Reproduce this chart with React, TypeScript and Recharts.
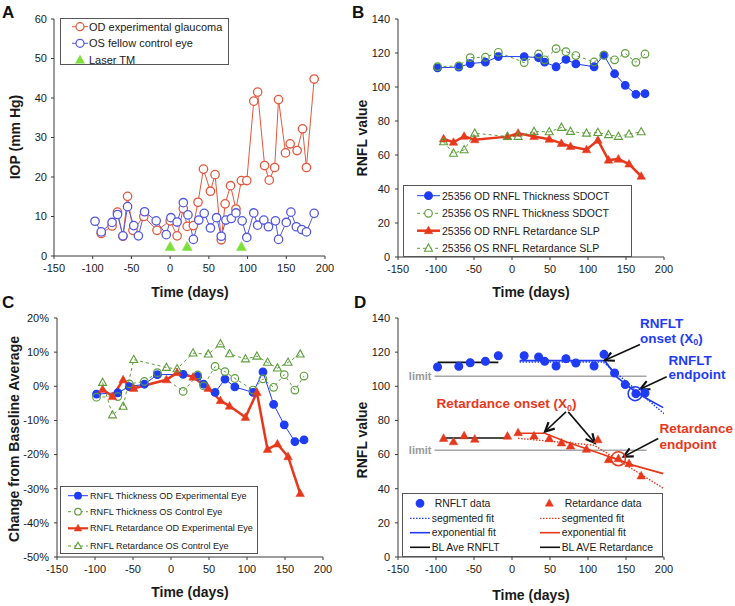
import React from 'react';
import { ComposedChart, Line, XAxis, YAxis, ReferenceLine, ReferenceDot, Legend } from 'recharts';

const FONT = '"Liberation Sans", Arial, Helvetica, sans-serif';
const TEXT = '#1a1a1a';
const AXIS = '#3a3a3a';

const A_RED = '#e4573d';
const A_BLUE = '#5458e0';
const LASER = '#7de03a';
const BLUE = '#1f3cf5';
const RED = '#e8381c';
const GREEN = '#5e9e3c';
const LIMIT = '#a6a6a6';

// ---------- shared ticks ----------
const xTicks = [-150, -100, -50, 0, 50, 100, 150, 200];
const iopTicks = [0, 10, 20, 30, 40, 50, 60];
const rnflTicks = [0, 20, 40, 60, 80, 100, 120, 140];
const pctTicks = [-50, -40, -30, -20, -10, 0, 10, 20];

// ---------- Panel A: IOP ----------
const odIopDays = [-89, -75, -68, -61, -55, -48, -34, -17, 0, 9, 17, 22, 30, 36, 43, 52, 58, 66, 71, 78, 85, 92, 99, 108, 113, 122, 128, 135, 140, 149, 155, 164, 171, 176, 186];
const odIop = [5.7, 7.6, 11.1, 5.0, 15.1, 6.5, 10.0, 6.5, 8.9, 5.1, 12.0, 7.5, 7.7, 13.6, 22.0, 16.4, 20.6, 4.1, 13.2, 17.8, 11.9, 19.1, 19.1, 39.2, 41.5, 22.9, 19.2, 22.4, 39.6, 26.1, 28.4, 26.7, 32.2, 22.4, 44.8];
const osIopDays = [-97, -89, -75, -68, -61, -55, -47, -41, -33, -18, -5, 1, 9, 17, 23, 30, 37, 44, 52, 60, 66, 72, 79, 85, 93, 99, 108, 113, 121, 127, 136, 140, 150, 156, 163, 170, 176, 186];
const osIop = [8.8, 6.1, 8.5, 10.5, 5.1, 12.5, 7.7, 5.1, 11.2, 8.9, 5.4, 9.7, 8.6, 13.5, 10.4, 4.2, 9.1, 10.8, 7.1, 9.7, 5.0, 9.1, 9.5, 10.9, 8.9, 4.7, 10.9, 7.8, 9.1, 7.4, 8.9, 4.2, 8.5, 11.1, 7.4, 6.7, 6.1, 10.8];
const laserDays = [0, 22, 92];
const laserLevel = [2.3, 2.3, 2.3];

// ---------- Panels B & D: RNFL values ----------
const thickDays = [-98, -70, -55, -35, -18, 16, 35, 43, 58, 71, 84, 108, 121, 135, 149, 163, 175];
const odThick = [111.3, 111.7, 113.8, 114.6, 117.9, 117.9, 117.2, 114.6, 111.9, 116.2, 113.6, 111.9, 118.7, 107.8, 101.0, 95.7, 96.1];
const osThick = [112.0, 112.4, 117.3, 117.5, 120.4, 114.4, 119.4, 116.0, 122.6, 120.8, 118.5, 114.7, 118.7, 116.0, 119.8, 114.5, 119.4];
const retDays = [-90, -77, -63, -49, -6, 8, 29, 49, 65, 77, 98, 113, 127, 140, 154, 170];
const odRet = [69.5, 67.5, 71.0, 69.0, 70.8, 72.8, 70.9, 69.3, 66.8, 65.0, 63.1, 68.7, 57.0, 57.6, 54.7, 47.5];
const osRet = [67.7, 61.0, 63.0, 72.8, 70.9, 70.9, 73.8, 73.6, 76.2, 73.8, 72.8, 73.2, 71.9, 70.9, 72.3, 73.6];

// ---------- Panel C: % change from baseline ----------
const cThickOD = [-2.3, -1.9, -0.1, 0.6, 3.4, 3.5, 2.9, 0.6, -1.8, 2.1, -0.2, -1.8, 4.2, -5.3, -11.3, -16.2, -15.7];
const cThickOS = [-3.2, -3.0, 0.7, 1.4, 4.0, -1.5, 3.3, 0.1, 5.8, 4.3, 2.3, -1.1, 2.2, -0.3, 3.4, -1.1, 3.0];
const cRetOD = [-0.9, -3.0, 1.9, -0.6, 1.9, 4.0, 2.7, -0.6, -4.2, -5.8, -9.1, -1.8, -18.5, -16.9, -20.6, -31.4];
const cRetOS = [1.1, -8.4, -5.9, 7.8, 5.5, 5.1, 9.7, 9.4, 12.4, 9.5, 8.0, 8.8, 7.0, 5.3, 7.0, 9.4];

// ---------- Panel D: fits ----------
const rnfltSegDays = [10, 120, 200];
const rnfltSegVals = [114.2, 114.2, 84];
const rnfltExpDays = [10, 122, 138, 160, 177, 199];
const rnfltExpVals = [115, 115, 105.4, 97.7, 92.8, 87.5];
const retSegDays = [8, 108, 200];
const retSegVals = [69.5, 65.5, 40];
const retExpDays = [8, 43, 72, 116, 160, 199];
const retExpVals = [72.5, 72.5, 67.4, 60.6, 53.7, 48.8];
const blRnfltDays = [-98, -18];
const blRnflt = 114;
const blRetDays = [-90, -6];
const blRet = 69.7;
const limitDays = [-102, 177];
const rnfltLimit = 105.9;
const retLimit = 62.5;

const pts = (xs: number[], ys: number[]) => xs.map((x, i) => ({ x, y: ys[i] }));

// ---------- markers ----------
const mCircle = (cx: number, cy: number, r: number, color: string, filled: boolean, fill = '#fff', sw = 1.2) => (
  <circle cx={cx} cy={cy} r={r} fill={filled ? color : fill} stroke={color} strokeWidth={sw} />
);
const triPoints = (cx: number, cy: number, s: number) => {
  const h = s * 0.9;
  return `${cx},${cy - h * 0.6} ${cx + s / 2},${cy + h * 0.4} ${cx - s / 2},${cy + h * 0.4}`;
};
const mTri = (cx: number, cy: number, s: number, color: string, filled: boolean, fill = '#fff', sw = 1.1) => (
  <polygon points={triPoints(cx, cy, s)} fill={filled ? color : fill} stroke={color} strokeWidth={filled ? 0.5 : sw} />
);

function circleDot(color: string, r: number, filled: boolean, fill = '#fff', sw = 1.2) {
  return (p: any) => {
    if (p.cx == null || p.cy == null) return <g key={`e${p.index}`} />;
    return <g key={`c${p.index}`}>{mCircle(p.cx, p.cy, r, color, filled, fill, sw)}</g>;
  };
}
function triDot(color: string, s: number, filled: boolean, fill = '#fff', sw = 1.1) {
  return (p: any) => {
    if (p.cx == null || p.cy == null) return <g key={`e${p.index}`} />;
    return <g key={`t${p.index}`}>{mTri(p.cx, p.cy, s, color, filled, fill, sw)}</g>;
  };
}

const tickStyle = { fontSize: 11, fill: TEXT, fontFamily: FONT };
const axisLine = { stroke: AXIS, strokeWidth: 1 };

const xAxisBase = {
  type: 'number' as const,
  dataKey: 'x',
  domain: [-150, 200],
  ticks: xTicks,
  interval: 0 as const,
  tickSize: 3,
  tick: tickStyle,
  axisLine: axisLine,
  tickLine: axisLine,
  allowDataOverflow: true,
};

const legendPos = (left: number, top: number, width: number, height: number) => ({
  position: 'absolute' as const,
  left,
  top,
  width,
  height,
});

function LegendBox({ w, h, children }: any) {
  return (
    <svg width={w} height={h} style={{ display: 'block' }} fontFamily={FONT}>
      <rect x={0.5} y={0.5} width={w - 1} height={h - 1} fill="#fff" stroke="#555" strokeWidth={1} />
      {children}
    </svg>
  );
}

const LText = ({ x, y, fs, children }: any) => (
  <text x={x} y={y} dominantBaseline="central" fontSize={fs} fill={TEXT} fontFamily={FONT}>
    {children}
  </text>
);

// ---------- Legends ----------
function LegendA() {
  const rows = [8.7, 25.3, 42];
  return (
    <LegendBox w={169} h={47}>
      <line x1={12} x2={28} y1={rows[0]} y2={rows[0]} stroke={A_RED} strokeWidth={1} />
      {mCircle(20, rows[0], 4, A_RED, false)}
      <LText x={29} y={rows[0]} fs={11}>OD experimental glaucoma</LText>
      <line x1={12} x2={28} y1={rows[1]} y2={rows[1]} stroke={A_BLUE} strokeWidth={1} />
      {mCircle(20, rows[1], 4, A_BLUE, false)}
      <LText x={29} y={rows[1]} fs={11}>OS fellow control eye</LText>
      {mTri(20, rows[2], 9, LASER, true)}
      <LText x={29} y={rows[2]} fs={11}>Laser TM</LText>
    </LegendBox>
  );
}

function LegendB() {
  const rows = [10.7, 28.3, 45.7, 63.3];
  const x1 = 14, x2 = 37, mx = 25.5, tx = 39, fs = 10.5;
  return (
    <LegendBox w={229} h={72}>
      <line x1={x1} x2={x2} y1={rows[0]} y2={rows[0]} stroke={BLUE} strokeWidth={1} />
      {mCircle(mx, rows[0], 3.8, BLUE, true)}
      <LText x={tx} y={rows[0]} fs={fs}>25356 OD RNFL Thickness SDOCT</LText>
      <line x1={x1} x2={x2} y1={rows[1]} y2={rows[1]} stroke={GREEN} strokeWidth={1} strokeDasharray="3 3" />
      {mCircle(mx, rows[1], 3.8, GREEN, false)}
      <LText x={tx} y={rows[1]} fs={fs}>25356 OS RNFL Thickness SDOCT</LText>
      <line x1={x1} x2={x2} y1={rows[2]} y2={rows[2]} stroke={RED} strokeWidth={2.5} />
      {mTri(mx, rows[2], 8.5, RED, true)}
      <LText x={tx} y={rows[2]} fs={fs}>25356 OD RNFL Retardance SLP</LText>
      <line x1={x1} x2={x2} y1={rows[3]} y2={rows[3]} stroke={GREEN} strokeWidth={1} strokeDasharray="3 3" />
      {mTri(mx, rows[3], 8, GREEN, false)}
      <LText x={tx} y={rows[3]} fs={fs}>25356 OS RNFL Retardance SLP</LText>
    </LegendBox>
  );
}

function LegendC() {
  const rows = [9.7, 25.7, 42.3, 60];
  const x1 = 8, x2 = 28, mx = 18, tx = 30, fs = 9.1;
  return (
    <LegendBox w={198} h={68}>
      <line x1={x1} x2={x2} y1={rows[0]} y2={rows[0]} stroke={BLUE} strokeWidth={1} />
      {mCircle(mx, rows[0], 3.3, BLUE, true)}
      <LText x={tx} y={rows[0]} fs={fs}>RNFL Thickness OD Experimental Eye</LText>
      <line x1={x1} x2={x2} y1={rows[1]} y2={rows[1]} stroke={GREEN} strokeWidth={1} strokeDasharray="3 3" />
      {mCircle(mx, rows[1], 3.3, GREEN, false)}
      <LText x={tx} y={rows[1]} fs={fs}>RNFL Thickness OS Control Eye</LText>
      <line x1={x1} x2={x2} y1={rows[2]} y2={rows[2]} stroke={RED} strokeWidth={2.2} />
      {mTri(mx, rows[2], 7.5, RED, true)}
      <LText x={tx} y={rows[2]} fs={fs}>RNFL Retardance OD Experimental Eye</LText>
      <line x1={x1} x2={x2} y1={rows[3]} y2={rows[3]} stroke={GREEN} strokeWidth={1} strokeDasharray="3 3" />
      {mTri(mx, rows[3], 7, GREEN, false)}
      <LText x={tx} y={rows[3]} fs={fs}>RNFL Retardance OS Control Eye</LText>
    </LegendBox>
  );
}

function LegendD() {
  const rows = [10.3, 25.3, 39.7, 54.3];
  const c1 = { x1: 8, x2: 28, mx: 18, tx: 29.7 };
  const c2 = { x1: 138, x2: 158, mx: 147.3, tx: 159.7 };
  const fs = 10.4;
  return (
    <LegendBox w={261} h={64}>
      {mCircle(c1.mx, rows[0], 3.8, BLUE, true)}
      <LText x={c1.tx + 3} y={rows[0]} fs={fs}>RNFLT data</LText>
      <line x1={c1.x1} x2={c1.x2} y1={rows[1]} y2={rows[1]} stroke={BLUE} strokeWidth={1.3} strokeDasharray="1.5 1.5" />
      <LText x={c1.tx} y={rows[1]} fs={fs}>segmented fit</LText>
      <line x1={c1.x1} x2={c1.x2} y1={rows[2]} y2={rows[2]} stroke={BLUE} strokeWidth={1.6} />
      <LText x={c1.tx} y={rows[2]} fs={fs}>exponential fit</LText>
      <line x1={c1.x1} x2={c1.x2} y1={rows[3]} y2={rows[3]} stroke="#111" strokeWidth={1.6} />
      <LText x={c1.tx} y={rows[3]} fs={fs}>BL Ave RNFLT</LText>

      {mTri(c2.mx, rows[0], 8, RED, true)}
      <LText x={c2.tx + 3} y={rows[0]} fs={fs}>Retardance data</LText>
      <line x1={c2.x1} x2={c2.x2} y1={rows[1]} y2={rows[1]} stroke={RED} strokeWidth={1.3} strokeDasharray="1.5 1.5" />
      <LText x={c2.tx} y={rows[1]} fs={fs}>segmented fit</LText>
      <line x1={c2.x1} x2={c2.x2} y1={rows[2]} y2={rows[2]} stroke={RED} strokeWidth={1.6} />
      <LText x={c2.tx} y={rows[2]} fs={fs}>exponential fit</LText>
      <line x1={c2.x1} x2={c2.x2} y1={rows[3]} y2={rows[3]} stroke="#111" strokeWidth={1.6} />
      <LText x={c2.tx} y={rows[3]} fs={fs}>BL AVE Retardance</LText>
    </LegendBox>
  );
}

// ---------- Panels ----------
function PanelA() {
  return (
    <ComposedChart width={367} height={300} margin={{ top: 19, right: 42, left: 0, bottom: 0 }}>
      <XAxis {...xAxisBase} height={44} tickMargin={5} />
      <YAxis type="number" domain={[0, 60]} ticks={iopTicks} interval={0} width={54} tickSize={3} tickMargin={4} tick={tickStyle} axisLine={axisLine} tickLine={axisLine} />
      <Line data={pts(odIopDays, odIop)} dataKey="y" stroke={A_RED} strokeWidth={1} dot={circleDot(A_RED, 4.2, false, '#fff', 1.3)} isAnimationActive={false} />
      <Line data={pts(osIopDays, osIop)} dataKey="y" stroke={A_BLUE} strokeWidth={1} dot={circleDot(A_BLUE, 4.2, false, '#fff', 1.3)} isAnimationActive={false} />
      <Line data={pts(laserDays, laserLevel)} dataKey="y" stroke="none" dot={triDot(LASER, 10, true)} isAnimationActive={false} />
      <Legend content={() => <LegendA />} layout="vertical" verticalAlign="middle" align="center" wrapperStyle={legendPos(60, 18, 169, 47)} />
    </ComposedChart>
  );
}

function PanelB() {
  return (
    <ComposedChart width={385} height={300} margin={{ top: 19, right: 71, left: 0, bottom: 0 }}>
      <XAxis {...xAxisBase} height={43} tickMargin={5} />
      <YAxis type="number" domain={[0, 140]} ticks={rnflTicks} interval={0} width={48} tickSize={3} tickMargin={5} tick={tickStyle} axisLine={axisLine} tickLine={axisLine} />
      <Line data={pts(thickDays, odThick)} dataKey="y" stroke={BLUE} strokeWidth={1} dot={circleDot(BLUE, 3.8, true)} isAnimationActive={false} />
      <Line data={pts(thickDays, osThick)} dataKey="y" stroke={GREEN} strokeWidth={1} strokeDasharray="3 3" dot={circleDot(GREEN, 3.8, false, 'none', 1.2)} isAnimationActive={false} />
      <Line data={pts(retDays, odRet)} dataKey="y" stroke={RED} strokeWidth={2.5} dot={triDot(RED, 8.5, true)} isAnimationActive={false} />
      <Line data={pts(retDays, osRet)} dataKey="y" stroke={GREEN} strokeWidth={1} strokeDasharray="3 3" dot={triDot(GREEN, 8, false, 'none')} isAnimationActive={false} />
      <Legend content={() => <LegendB />} layout="vertical" verticalAlign="middle" align="center" wrapperStyle={legendPos(53, 185, 229, 72)} />
    </ComposedChart>
  );
}

function PanelC() {
  return (
    <ComposedChart width={367} height={306} margin={{ top: 18, right: 44, left: 0, bottom: 0 }}>
      <XAxis {...xAxisBase} height={49} tickMargin={5} />
      <YAxis type="number" domain={[-50, 20]} ticks={pctTicks} interval={0} width={57} tickSize={3} tickMargin={5} tick={tickStyle} axisLine={axisLine} tickLine={axisLine} tickFormatter={(v: number) => `${v}%`} />
      <Line data={pts(thickDays, cThickOD)} dataKey="y" stroke={BLUE} strokeWidth={1} dot={circleDot(BLUE, 3.8, true)} isAnimationActive={false} />
      <Line data={pts(thickDays, cThickOS)} dataKey="y" stroke={GREEN} strokeWidth={1} strokeDasharray="3 3" dot={circleDot(GREEN, 3.8, false, 'none', 1.2)} isAnimationActive={false} />
      <Line data={pts(retDays, cRetOD)} dataKey="y" stroke={RED} strokeWidth={2.5} dot={triDot(RED, 8.5, true)} isAnimationActive={false} />
      <Line data={pts(retDays, cRetOS)} dataKey="y" stroke={GREEN} strokeWidth={1} strokeDasharray="3 3" dot={triDot(GREEN, 8, false, 'none')} isAnimationActive={false} />
      <Legend content={() => <LegendC />} layout="vertical" verticalAlign="middle" align="center" wrapperStyle={legendPos(60, 186, 198, 68)} />
    </ComposedChart>
  );
}

const arrowShape = (p: any) => {
  const { x1, y1, x2, y2 } = p;
  if ([x1, y1, x2, y2].some((v) => typeof v !== 'number' || isNaN(v))) return <g />;
  const ang = Math.atan2(y2 - y1, x2 - x1);
  const L = 9, W = 4.5;
  const bx = x2 - L * Math.cos(ang);
  const by = y2 - L * Math.sin(ang);
  const px = -Math.sin(ang) * W;
  const py = Math.cos(ang) * W;
  return (
    <g>
      <line x1={x1} y1={y1} x2={x2} y2={y2} stroke="#111" strokeWidth={1.6} />
      <polyline points={`${bx + px},${by + py} ${x2},${y2} ${bx - px},${by - py}`} fill="none" stroke="#111" strokeWidth={2.2} strokeLinejoin="miter" />
    </g>
  );
};

const annText = (color: string, content: React.ReactNode) => (props: any) => {
  const vb = props.viewBox || {};
  const x = (vb.x ?? 0) + (vb.width ?? 0) / 2;
  const y = (vb.y ?? 0) + (vb.height ?? 0) / 2;
  return (
    <text x={x} y={y} fill={color} fontSize={13.5} fontWeight="bold" fontFamily={FONT}>
      {content}
    </text>
  );
};

const X0 = (
  <>
    <tspan>(X</tspan>
    <tspan dy={2.5} fontSize={9}>0</tspan>
    <tspan dy={-2.5}>)</tspan>
  </>
);

const limitLabel = { value: 'limit', position: 'left' as const, offset: 3, fill: '#9a9a9a', fontSize: 11, fontWeight: 'bold', fontFamily: FONT };

function PanelD() {
  return (
    <ComposedChart width={385} height={306} margin={{ top: 18, right: 71, left: 0, bottom: 0 }}>
      <XAxis {...xAxisBase} height={49} tickMargin={5} />
      <YAxis type="number" domain={[0, 140]} ticks={rnflTicks} interval={0} width={48} tickSize={3} tickMargin={5} tick={tickStyle} axisLine={axisLine} tickLine={axisLine} />

      <ReferenceLine segment={[{ x: limitDays[0], y: rnfltLimit }, { x: limitDays[1], y: rnfltLimit }]} stroke={LIMIT} strokeWidth={1.6} label={limitLabel} ifOverflow="visible" />
      <ReferenceLine segment={[{ x: limitDays[0], y: retLimit }, { x: limitDays[1], y: retLimit }]} stroke={LIMIT} strokeWidth={1.6} label={limitLabel} ifOverflow="visible" />
      <ReferenceLine segment={[{ x: blRnfltDays[0], y: blRnflt }, { x: blRnfltDays[1], y: blRnflt }]} stroke="#111" strokeWidth={1.6} ifOverflow="visible" />
      <ReferenceLine segment={[{ x: blRetDays[0], y: blRet }, { x: blRetDays[1], y: blRet }]} stroke="#111" strokeWidth={1.6} ifOverflow="visible" />

      <Line data={pts(thickDays, odThick)} dataKey="y" stroke="none" dot={circleDot(BLUE, 3.9, true)} isAnimationActive={false} />
      <Line data={pts(retDays, odRet)} dataKey="y" stroke="none" dot={triDot(RED, 8.5, true)} isAnimationActive={false} />

      <Line data={pts(rnfltSegDays, rnfltSegVals)} dataKey="y" stroke={BLUE} strokeWidth={1.4} strokeDasharray="1.5 1.5" dot={false} isAnimationActive={false} />
      <Line data={pts(rnfltExpDays, rnfltExpVals)} dataKey="y" stroke={BLUE} strokeWidth={1.7} dot={false} isAnimationActive={false} />
      <Line data={pts(retSegDays, retSegVals)} dataKey="y" stroke={RED} strokeWidth={1.4} strokeDasharray="1.5 1.5" dot={false} isAnimationActive={false} />
      <Line data={pts(retExpDays, retExpVals)} dataKey="y" stroke={RED} strokeWidth={1.7} dot={false} isAnimationActive={false} />

      <ReferenceDot x={162} y={95.7} r={7} fill="none" stroke={BLUE} strokeWidth={1.5} ifOverflow="visible" />
      <ReferenceDot x={140} y={57.6} r={7} fill="none" stroke={RED} strokeWidth={1.5} ifOverflow="visible" />

      <ReferenceLine segment={[{ x: 168.4, y: 124.5 }, { x: 122.2, y: 115.2 }]} shape={arrowShape} ifOverflow="visible" />
      <ReferenceLine segment={[{ x: 203.5, y: 105.6 }, { x: 169, y: 98.4 }]} shape={arrowShape} ifOverflow="visible" />
      <ReferenceLine segment={[{ x: 71, y: 85 }, { x: 43.5, y: 73.5 }]} shape={arrowShape} ifOverflow="visible" />
      <ReferenceLine segment={[{ x: 74, y: 85 }, { x: 109, y: 66.8 }]} shape={arrowShape} ifOverflow="visible" />
      <ReferenceLine segment={[{ x: 192.4, y: 69.4 }, { x: 147, y: 58.8 }]} shape={arrowShape} ifOverflow="visible" />

      <ReferenceDot x={168.4} y={134.2} r={0} fill="none" stroke="none" ifOverflow="visible" label={annText(BLUE, 'RNFLT')} />
      <ReferenceDot x={168.4} y={125.6} r={0} fill="none" stroke="none" ifOverflow="visible" label={annText(BLUE, <>onset {X0}</>)} />
      <ReferenceDot x={206} y={112.4} r={0} fill="none" stroke="none" ifOverflow="visible" label={annText(BLUE, 'RNFLT')} />
      <ReferenceDot x={206} y={104.3} r={0} fill="none" stroke="none" ifOverflow="visible" label={annText(BLUE, 'endpoint')} />
      <ReferenceDot x={-99.4} y={87} r={0} fill="none" stroke="none" ifOverflow="visible" label={annText(RED, <>Retardance onset {X0}</>)} />
      <ReferenceDot x={194} y={72.4} r={0} fill="none" stroke="none" ifOverflow="visible" label={annText(RED, 'Retardance')} />
      <ReferenceDot x={194} y={63.3} r={0} fill="none" stroke="none" ifOverflow="visible" label={annText(RED, 'endpoint')} />

      <Legend content={() => <LegendD />} layout="vertical" verticalAlign="middle" align="center" wrapperStyle={legendPos(52, 193, 261, 64)} />
    </ComposedChart>
  );
}

function Titles() {
  const t = { fontSize: 14, fontWeight: 'bold' as const, fill: TEXT, fontFamily: FONT };
  const L = { fontSize: 17, fontWeight: 'bold' as const, fill: '#111', fontFamily: FONT };
  return (
    <svg width={735} height={606} style={{ position: 'absolute', left: 0, top: 0, pointerEvents: 'none' }}>
      <text x={2} y={18} {...L}>A</text>
      <text x={352} y={18} {...L}>B</text>
      <text x={2} y={308} {...L}>C</text>
      <text x={354} y={308} {...L}>D</text>

      <text x={190} y={297} textAnchor="middle" {...t}>Time (days)</text>
      <text x={531} y={297} textAnchor="middle" {...t}>Time (days)</text>
      <text x={190} y={597} textAnchor="middle" {...t}>Time (days)</text>
      <text x={531} y={600} textAnchor="middle" {...t}>Time (days)</text>

      <text transform="translate(15,137) rotate(-90)" textAnchor="middle" dominantBaseline="central" {...t}>IOP (mm Hg)</text>
      <text transform="translate(362,138) rotate(-90)" textAnchor="middle" dominantBaseline="central" {...t}>RNFL value</text>
      <text transform="translate(14,439) rotate(-90)" textAnchor="middle" dominantBaseline="central" {...t}>Change from Baseline Average</text>
      <text transform="translate(362,440) rotate(-90)" textAnchor="middle" dominantBaseline="central" {...t}>RNFL value</text>
    </svg>
  );
}

export default function App() {
  return (
    <div style={{ position: 'absolute', left: 0, top: 0, width: 735, height: 606, background: '#fff', fontFamily: FONT, overflow: 'hidden' }}>
      <div style={{ position: 'absolute', left: 0, top: 0 }}><PanelA /></div>
      <div style={{ position: 'absolute', left: 350, top: 0 }}><PanelB /></div>
      <div style={{ position: 'absolute', left: 0, top: 300 }}><PanelC /></div>
      <div style={{ position: 'absolute', left: 350, top: 300 }}><PanelD /></div>
      <Titles />
    </div>
  );
}
